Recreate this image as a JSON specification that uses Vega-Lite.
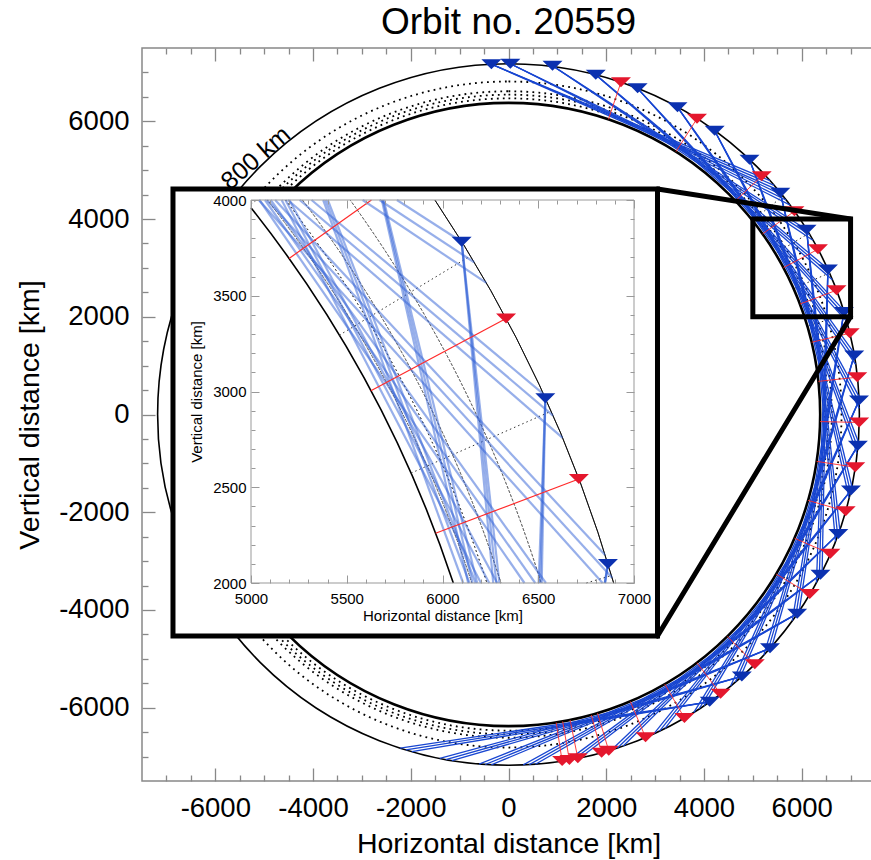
{
  "$schema": "https://vega.github.io/schema/vega-lite/v6.json",
  "width": 733,
  "height": 733,
  "autosize": {"type": "none"},
  "padding": {"left": 142, "top": 48, "right": 0, "bottom": 79},
  "background": "white",
  "view": {"stroke": "#888888", "strokeWidth": 1.5},
  "title": {"text": "Orbit no. 20559", "fontSize": 37, "font": "Liberation Sans", "fontWeight": "normal", "color": "#000000", "anchor": "middle", "baseline": "alphabetic", "offset": -24, "frame": "group"},
  "datasets": {
    "one": [{"v": 0}],
    "levels": [{"r": 6470}, {"r": 6545}, {"r": 6615}, {"r": 6815}],
    "earth": [{"r": 6378}],
    "orbit": [{"r": 7178}],
    "zoom": [{"x": 5000, "xe": 7000, "y": 2000, "ye": 4000}],
    "links": [{"x": 7000, "y": 4000, "xe": 3049, "ye": 4615}, {"x": 7000, "y": 2000, "xe": 3049, "ye": -4533}],
    "label": [{"x": -5064, "y": 5126, "text": "800 km"}],
    "radial": [
      {"x": 5617, "y": 4468, "xe": 4991, "ye": 3970},
      {"x": 6146, "y": 3708, "xe": 5461, "ye": 3294},
      {"x": 6567, "y": 2897, "xe": 5836, "ye": 2574},
      {"x": 6882, "y": 2039, "xe": 6115, "ye": 1811}
    ],
    "blue": [
      {"x": -351, "y": 7169}, {"x": 38, "y": 7178}, {"x": 900, "y": 7136}, {"x": 1785, "y": 6952},
      {"x": 2642, "y": 6674}, {"x": 3458, "y": 6290}, {"x": 4219, "y": 5807}, {"x": 4932, "y": 5215},
      {"x": 5562, "y": 4537}, {"x": 6100, "y": 3782}, {"x": 6537, "y": 2965}, {"x": 6864, "y": 2099},
      {"x": 7075, "y": 1209}, {"x": 7172, "y": 288}, {"x": 7149, "y": -638}, {"x": 7008, "y": -1554},
      {"x": 6749, "y": -2443}, {"x": 6384, "y": -3281}, {"x": 5908, "y": -4076}, {"x": 5351, "y": -4784},
      {"x": 4775, "y": -5359}, {"x": 4117, "y": -5880}
    ],
    "red": [
      {"x": 2301, "y": 6799, "xe": 2045, "ye": 6041},
      {"x": 3857, "y": 6054, "xe": 3427, "ye": 5379},
      {"x": 5181, "y": 4877, "xe": 4603, "ye": 4333},
      {"x": 5851, "y": 4158, "xe": 5199, "ye": 3695},
      {"x": 6332, "y": 3381, "xe": 5626, "ye": 3004},
      {"x": 6712, "y": 2543, "xe": 5964, "ye": 2260},
      {"x": 6982, "y": 1663, "xe": 6204, "ye": 1478},
      {"x": 7137, "y": 763, "xe": 6342, "ye": 678},
      {"x": 7176, "y": -163, "xe": 6376, "ye": -145},
      {"x": 7096, "y": -1080, "xe": 6305, "ye": -959},
      {"x": 6900, "y": -1979, "xe": 6131, "ye": -1758},
      {"x": 6587, "y": -2851, "xe": 5853, "ye": -2533},
      {"x": 6165, "y": -3675, "xe": 5478, "ye": -3266},
      {"x": 5040, "y": -5111, "xe": 4478, "ye": -4541},
      {"x": 4340, "y": -5717, "xe": 3856, "ye": -5080},
      {"x": 3600, "y": -6210, "xe": 3199, "ye": -5518},
      {"x": 2805, "y": -6607, "xe": 2492, "ye": -5871},
      {"x": 2051, "y": -6879, "xe": 1822, "ye": -6112},
      {"x": 1906, "y": -6920, "xe": 1694, "ye": -6149},
      {"x": 1419, "y": -7036, "xe": 1261, "ye": -6252},
      {"x": 1246, "y": -7069, "xe": 1108, "ye": -6281},
      {"x": 1098, "y": -7093, "xe": 976, "ye": -6303}
    ],
    "chords": [
      {"x": -351, "y": 7169, "xe": 5351, "ye": 4784}, {"x": -351, "y": 7169, "xe": 5434, "ye": 4690}, {"x": -351, "y": 7169, "xe": 5515, "ye": 4595},
      {"x": 38, "y": 7178, "xe": 5602, "ye": 4488}, {"x": 38, "y": 7178, "xe": 5679, "ye": 4389}, {"x": 38, "y": 7178, "xe": 5755, "ye": 4290},
      {"x": 900, "y": 7136, "xe": 6100, "ye": 3782}, {"x": 900, "y": 7136, "xe": 6165, "ye": 3675}, {"x": 900, "y": 7136, "xe": 6229, "ye": 3567},
      {"x": 1785, "y": 6952, "xe": 6526, "ye": 2988}, {"x": 1785, "y": 6952, "xe": 6577, "ye": 2874}, {"x": 1785, "y": 6952, "xe": 6627, "ye": 2758},
      {"x": 2642, "y": 6674, "xe": 6849, "ye": 2146}, {"x": 2642, "y": 6674, "xe": 6886, "ye": 2027}, {"x": 2642, "y": 6674, "xe": 6920, "ye": 1906},
      {"x": 3458, "y": 6290, "xe": 7064, "ye": 1271}, {"x": 3458, "y": 6290, "xe": 7085, "ye": 1148}, {"x": 3458, "y": 6290, "xe": 7104, "ye": 1024},
      {"x": 4219, "y": 5807, "xe": 7168, "ye": 376}, {"x": 4219, "y": 5807, "xe": 7174, "ye": 251}, {"x": 4219, "y": 5807, "xe": 7177, "ye": 125},
      {"x": 4932, "y": 5215, "xe": 7157, "ye": -551}, {"x": 4932, "y": 5215, "xe": 7146, "ye": -675}, {"x": 4932, "y": 5215, "xe": 7133, "ye": -800},
      {"x": 5562, "y": 4537, "xe": 7026, "ye": -1468}, {"x": 5562, "y": 4537, "xe": 6999, "ye": -1590}, {"x": 5562, "y": 4537, "xe": 6971, "ye": -1712},
      {"x": 6100, "y": 3782, "xe": 6779, "ye": -2361}, {"x": 6100, "y": 3782, "xe": 6736, "ye": -2478}, {"x": 6100, "y": 3782, "xe": 6692, "ye": -2596},
      {"x": 6537, "y": 2965, "xe": 6418, "ye": -3214}, {"x": 6537, "y": 2965, "xe": 6361, "ye": -3325}, {"x": 6537, "y": 2965, "xe": 6302, "ye": -3436},
      {"x": 6864, "y": 2099, "xe": 5951, "ye": -4014}, {"x": 6864, "y": 2099, "xe": 5880, "ye": -4117}, {"x": 6864, "y": 2099, "xe": 5807, "ye": -4219},
      {"x": 7075, "y": 1209, "xe": 5392, "ye": -4737}, {"x": 7075, "y": 1209, "xe": 5309, "ye": -4831}, {"x": 7075, "y": 1209, "xe": 5224, "ye": -4923},
      {"x": 7172, "y": 288, "xe": 4737, "ye": -5392}, {"x": 7172, "y": 288, "xe": 4643, "ye": -5474}, {"x": 7172, "y": 288, "xe": 4546, "ye": -5554},
      {"x": 7149, "y": -638, "xe": 4003, "ye": -5958}, {"x": 7149, "y": -638, "xe": 3899, "ye": -6027}, {"x": 7149, "y": -638, "xe": 3793, "ye": -6094},
      {"x": 7008, "y": -1554, "xe": 3203, "ye": -6424}, {"x": 7008, "y": -1554, "xe": 3090, "ye": -6479}, {"x": 7008, "y": -1554, "xe": 2977, "ye": -6531},
      {"x": 6749, "y": -2443, "xe": 2349, "ye": -6783}, {"x": 6749, "y": -2443, "xe": 2230, "ye": -6823}, {"x": 6749, "y": -2443, "xe": 2111, "ye": -6861},
      {"x": 6384, "y": -3281, "xe": 1468, "ye": -7026}, {"x": 6384, "y": -3281, "xe": 1345, "ye": -7051}, {"x": 6384, "y": -3281, "xe": 1222, "ye": -7073},
      {"x": 5908, "y": -4076, "xe": 551, "ye": -7157}, {"x": 5908, "y": -4076, "xe": 426, "ye": -7165}, {"x": 5908, "y": -4076, "xe": 301, "ye": -7171},
      {"x": 5351, "y": -4784, "xe": -351, "ye": -7169}, {"x": 5351, "y": -4784, "xe": -476, "ye": -7162}, {"x": 5351, "y": -4784, "xe": -601, "ye": -7153},
      {"x": 4775, "y": -5359, "xe": -1160, "ye": -7083}, {"x": 4775, "y": -5359, "xe": -1283, "ye": -7062}, {"x": 4775, "y": -5359, "xe": -1406, "ye": -7039},
      {"x": 4117, "y": -5880, "xe": -1979, "ye": -6900}, {"x": 4117, "y": -5880, "xe": -2099, "ye": -6864}, {"x": 4117, "y": -5880, "xe": -2218, "ye": -6827}
    ],
    "inEarth": [{"r": 6378, "t1": 0.90094, "t2": 1.25192}],
    "inOrbit": [{"r": 7178, "t1": 0.97983, "t2": 1.28858}],
    "inLevels": [
      {"r": 6470, "t1": 0.90426, "t2": 1.25646},
      {"r": 6545, "t1": 0.91333, "t2": 1.26030},
      {"r": 6615, "t1": 0.92136, "t2": 1.26362},
      {"r": 6815, "t1": 0.94353, "t2": 1.27287}
    ],
    "inChords": [
      {"x": 5762, "y": 4000, "xe": 6100, "ye": 3782}, {"x": 5671, "y": 4000, "xe": 6165, "ye": 3675}, {"x": 5583, "y": 4000, "xe": 6229, "ye": 3567},
      {"x": 5316, "y": 4000, "xe": 6526, "ye": 2988}, {"x": 5254, "y": 4000, "xe": 6577, "ye": 2874}, {"x": 5193, "y": 4000, "xe": 6627, "ye": 2758},
      {"x": 5126, "y": 4000, "xe": 6849, "ye": 2146}, {"x": 5084, "y": 4000, "xe": 6886, "ye": 2027}, {"x": 5041, "y": 4000, "xe": 6836, "ye": 2000},
      {"x": 5103, "y": 4000, "xe": 6540, "ye": 2000}, {"x": 5073, "y": 4000, "xe": 6484, "ye": 2000}, {"x": 5044, "y": 4000, "xe": 6428, "ye": 2000},
      {"x": 5200, "y": 4000, "xe": 6286, "ye": 2000}, {"x": 5180, "y": 4000, "xe": 6244, "ye": 2000}, {"x": 5160, "y": 4000, "xe": 6201, "ye": 2000},
      {"x": 5401, "y": 4000, "xe": 6173, "ye": 2000}, {"x": 5389, "y": 4000, "xe": 6141, "ye": 2000}, {"x": 5377, "y": 4000, "xe": 6108, "ye": 2000},
      {"x": 5693, "y": 4000, "xe": 6181, "ye": 2000}, {"x": 5688, "y": 4000, "xe": 6157, "ye": 2000}, {"x": 5683, "y": 4000, "xe": 6134, "ye": 2000},
      {"x": 6100, "y": 3782, "xe": 6297, "ye": 2000}, {"x": 6100, "y": 3782, "xe": 6281, "ye": 2000}, {"x": 6100, "y": 3782, "xe": 6265, "ye": 2000},
      {"x": 6537, "y": 2965, "xe": 6518, "ye": 2000}, {"x": 6537, "y": 2965, "xe": 6510, "ye": 2000}, {"x": 6537, "y": 2965, "xe": 6502, "ye": 2000},
      {"x": 6864, "y": 2099, "xe": 6849, "ye": 2000}, {"x": 6864, "y": 2099, "xe": 6848, "ye": 2000}, {"x": 6864, "y": 2099, "xe": 6847, "ye": 2000}
    ],
    "inRadial": [
      {"x": 5000, "y": 3977, "xe": 5029, "ye": 4000},
      {"x": 5461, "y": 3294, "xe": 6146, "ye": 3708},
      {"x": 5836, "y": 2574, "xe": 6567, "ye": 2897},
      {"x": 6751, "y": 2000, "xe": 6882, "ye": 2039}
    ],
    "inRed": [
      {"x": 5629, "y": 4000, "xe": 5199, "ye": 3695},
      {"x": 6332, "y": 3381, "xe": 5626, "ye": 3004},
      {"x": 6712, "y": 2543, "xe": 5964, "ye": 2260}
    ],
    "inRedTri": [{"x": 6332, "y": 3381}, {"x": 6712, "y": 2543}],
    "inBlueTri": [{"x": 6100, "y": 3782}, {"x": 6537, "y": 2965}, {"x": 6864, "y": 2099}]
  },
  "layer": [
    {
      "layer": [
        {
          "data": {"name": "levels"},
          "mark": {"type": "arc", "filled": false, "stroke": "#000000", "strokeWidth": 1.8, "strokeDash": [1.8, 4.2], "theta": 0, "theta2": 6.2832},
          "encoding": {
            "x": {"datum": 0, "type": "quantitative", "scale": {"domain": [-7500, 7500], "nice": false, "zero": false}, "axis": null},
            "y": {"datum": 0, "type": "quantitative", "scale": {"domain": [-7500, 7500], "nice": false, "zero": false}, "axis": null},
            "radius": {"field": "r", "type": "quantitative", "stack": null, "scale": {"type": "linear", "domain": [0, 7500], "range": [0, 366.5], "zero": true, "nice": false}}
          }
        },
        {
          "data": {"name": "earth"},
          "mark": {"type": "arc", "filled": false, "stroke": "#000000", "strokeWidth": 2.6, "theta": 0, "theta2": 6.2832},
          "encoding": {
            "x": {"datum": 0, "type": "quantitative", "axis": null},
            "y": {"datum": 0, "type": "quantitative", "axis": null},
            "radius": {"field": "r", "type": "quantitative", "stack": null, "scale": {"type": "linear", "domain": [0, 7500], "range": [0, 366.5], "zero": true, "nice": false}}
          }
        },
        {
          "data": {"name": "orbit"},
          "mark": {"type": "arc", "filled": false, "stroke": "#000000", "strokeWidth": 1.6, "theta": 0, "theta2": 6.2832},
          "encoding": {
            "x": {"datum": 0, "type": "quantitative", "axis": null},
            "y": {"datum": 0, "type": "quantitative", "axis": null},
            "radius": {"field": "r", "type": "quantitative", "stack": null, "scale": {"type": "linear", "domain": [0, 7500], "range": [0, 366.5], "zero": true, "nice": false}}
          }
        },
        {
          "data": {"name": "radial"},
          "mark": {"type": "rule", "stroke": "#222222", "strokeWidth": 1, "strokeDash": [1.5, 3]},
          "encoding": {
            "x": {"field": "x", "type": "quantitative", "axis": null},
            "y": {"field": "y", "type": "quantitative", "axis": null},
            "x2": {"field": "xe"},
            "y2": {"field": "ye"}
          }
        },
        {
          "data": {"name": "chords"},
          "mark": {"type": "rule", "stroke": "#1846d1", "strokeWidth": 1.3},
          "encoding": {
            "x": {"field": "x", "type": "quantitative", "axis": null},
            "y": {"field": "y", "type": "quantitative", "axis": null},
            "x2": {"field": "xe"},
            "y2": {"field": "ye"}
          }
        },
        {
          "data": {"name": "red"},
          "mark": {"type": "rule", "stroke": "#ff2a2a", "strokeWidth": 0.9},
          "encoding": {
            "x": {"field": "x", "type": "quantitative", "axis": null},
            "y": {"field": "y", "type": "quantitative", "axis": null},
            "x2": {"field": "xe"},
            "y2": {"field": "ye"}
          }
        },
        {
          "data": {"name": "red"},
          "mark": {"type": "point", "shape": "M-1,-0.5L1,-0.5L0,0.5Z", "filled": true, "fill": "#e4172d", "strokeWidth": 0, "size": 400, "opacity": 1},
          "encoding": {
            "x": {"field": "x", "type": "quantitative", "axis": null},
            "y": {"field": "y", "type": "quantitative", "axis": null}
          }
        },
        {
          "data": {"name": "blue"},
          "mark": {"type": "point", "shape": "M-1,-0.5L1,-0.5L0,0.5Z", "filled": true, "fill": "#0b31b0", "strokeWidth": 0, "size": 400, "opacity": 1},
          "encoding": {
            "x": {"field": "x", "type": "quantitative", "axis": null},
            "y": {"field": "y", "type": "quantitative", "axis": null}
          }
        },
        {
          "data": {"name": "label"},
          "mark": {"type": "text", "angle": 319, "fontSize": 25, "font": "Liberation Sans", "align": "center", "baseline": "alphabetic", "color": "#000000"},
          "encoding": {
            "x": {"field": "x", "type": "quantitative", "axis": null},
            "y": {"field": "y", "type": "quantitative", "axis": null},
            "text": {"field": "text"}
          }
        },
        {
          "data": {"name": "one"},
          "mark": {"type": "rect", "fill": "#ffffff", "stroke": "#000000", "strokeWidth": 5},
          "encoding": {
            "x": {"datum": -6866, "type": "quantitative", "axis": null},
            "x2": {"datum": 3049},
            "y": {"datum": 4615, "type": "quantitative", "axis": null},
            "y2": {"datum": -4533}
          }
        },
        {
          "data": {"name": "zoom"},
          "mark": {"type": "rect", "fill": "transparent", "stroke": "#000000", "strokeWidth": 5},
          "encoding": {
            "x": {"field": "x", "type": "quantitative", "axis": null},
            "x2": {"field": "xe"},
            "y": {"field": "y", "type": "quantitative", "axis": null},
            "y2": {"field": "ye"}
          }
        },
        {
          "data": {"name": "links"},
          "mark": {"type": "rule", "stroke": "#000000", "strokeWidth": 5, "strokeCap": "round"},
          "encoding": {
            "x": {"field": "x", "type": "quantitative", "axis": null},
            "y": {"field": "y", "type": "quantitative", "axis": null},
            "x2": {"field": "xe"},
            "y2": {"field": "ye"}
          }
        },
        {
          "data": {"name": "one"},
          "mark": {"type": "point", "opacity": 0},
          "encoding": {
            "x": {"field": "v", "type": "quantitative", "axis": {"orient": "bottom", "values": [-6000, -4000, -2000, 0, 2000, 4000, 6000], "labelExpr": "datum.value + ''", "ticks": false, "domain": false, "grid": false, "labelFontSize": 27.5, "labelPadding": 13, "labelFlush": false, "labelOverlap": false, "labelBound": false, "title": "Horizontal distance [km]", "titleFontSize": 28.5, "titlePadding": 8}},
            "y": {"field": "v", "type": "quantitative", "axis": null}
          }
        },
        {
          "data": {"name": "one"},
          "mark": {"type": "point", "opacity": 0},
          "encoding": {
            "x": {"field": "v", "type": "quantitative", "axis": {"orient": "bottom", "values": [-7000, -6500, -6000, -5500, -5000, -4500, -4000, -3500, -3000, -2500, -2000, -1500, -1000, -500, 0, 500, 1000, 1500, 2000, 2500, 3000, 3500, 4000, 4500, 5000, 5500, 6000, 6500, 7000], "labels": false, "domain": false, "grid": false, "title": null, "tickColor": "#888888", "tickWidth": 1.3, "tickSize": {"condition": {"test": "datum.value % 2000 === 0", "value": -13}, "value": -6}}},
            "y": {"field": "v", "type": "quantitative", "axis": null}
          }
        },
        {
          "data": {"name": "one"},
          "mark": {"type": "point", "opacity": 0},
          "encoding": {
            "x": {"field": "v", "type": "quantitative", "axis": {"orient": "top", "values": [-7000, -6500, -6000, -5500, -5000, -4500, -4000, -3500, -3000, -2500, -2000, -1500, -1000, -500, 0, 500, 1000, 1500, 2000, 2500, 3000, 3500, 4000, 4500, 5000, 5500, 6000, 6500, 7000], "labels": false, "domain": false, "grid": false, "title": null, "tickColor": "#888888", "tickWidth": 1.3, "tickSize": {"condition": {"test": "datum.value % 2000 === 0", "value": -13}, "value": -6}}},
            "y": {"field": "v", "type": "quantitative", "axis": null}
          }
        },
        {
          "data": {"name": "one"},
          "mark": {"type": "point", "opacity": 0},
          "encoding": {
            "x": {"field": "v", "type": "quantitative", "axis": null},
            "y": {"field": "v", "type": "quantitative", "axis": {"orient": "left", "values": [-6000, -4000, -2000, 0, 2000, 4000, 6000], "labelExpr": "datum.value + ''", "ticks": false, "domain": false, "grid": false, "labelFontSize": 27.5, "labelPadding": 13, "labelFlush": false, "labelOverlap": false, "labelBound": false, "title": "Vertical distance [km]", "titleFontSize": 28.5, "titlePadding": 14}}
          }
        },
        {
          "data": {"name": "one"},
          "mark": {"type": "point", "opacity": 0},
          "encoding": {
            "x": {"field": "v", "type": "quantitative", "axis": null},
            "y": {"field": "v", "type": "quantitative", "axis": {"orient": "left", "values": [-7000, -6500, -6000, -5500, -5000, -4500, -4000, -3500, -3000, -2500, -2000, -1500, -1000, -500, 0, 500, 1000, 1500, 2000, 2500, 3000, 3500, 4000, 4500, 5000, 5500, 6000, 6500, 7000], "labels": false, "domain": false, "grid": false, "title": null, "tickColor": "#888888", "tickWidth": 1.3, "tickSize": {"condition": {"test": "datum.value % 2000 === 0", "value": -13}, "value": -6}}}
          }
        }
      ],
      "resolve": {"axis": {"x": "independent", "y": "independent"}}
    },
    {
      "layer": [
        {
          "data": {"name": "inLevels"},
          "mark": {"type": "arc", "filled": false, "stroke": "#333333", "strokeWidth": 1, "strokeDash": [1.5, 3]},
          "encoding": {
            "x": {"datum": 0, "type": "quantitative", "scale": {"domain": [5000, 7000], "range": [109, 492], "nice": false, "zero": false}, "axis": null},
            "y": {"datum": 0, "type": "quantitative", "scale": {"domain": [2000, 4000], "range": [535, 152], "nice": false, "zero": false}, "axis": null},
            "theta": {"field": "t1", "type": "quantitative", "scale": null, "stack": null},
            "theta2": {"field": "t2"},
            "radius": {"field": "r", "type": "quantitative", "stack": null, "scale": {"type": "linear", "domain": [0, 7500], "range": [0, 1436.25], "zero": true, "nice": false}},
            "radius2": {"field": "r"}
          }
        },
        {
          "data": {"name": "inEarth"},
          "mark": {"type": "arc", "filled": false, "stroke": "#000000", "strokeWidth": 1.6},
          "encoding": {
            "x": {"datum": 0, "type": "quantitative", "axis": null},
            "y": {"datum": 0, "type": "quantitative", "axis": null},
            "theta": {"field": "t1", "type": "quantitative", "scale": null, "stack": null},
            "theta2": {"field": "t2"},
            "radius": {"field": "r", "type": "quantitative", "stack": null, "scale": {"type": "linear", "domain": [0, 7500], "range": [0, 1436.25], "zero": true, "nice": false}},
            "radius2": {"field": "r"}
          }
        },
        {
          "data": {"name": "inOrbit"},
          "mark": {"type": "arc", "filled": false, "stroke": "#000000", "strokeWidth": 0.8},
          "encoding": {
            "x": {"datum": 0, "type": "quantitative", "axis": null},
            "y": {"datum": 0, "type": "quantitative", "axis": null},
            "theta": {"field": "t1", "type": "quantitative", "scale": null, "stack": null},
            "theta2": {"field": "t2"},
            "radius": {"field": "r", "type": "quantitative", "stack": null, "scale": {"type": "linear", "domain": [0, 7500], "range": [0, 1436.25], "zero": true, "nice": false}},
            "radius2": {"field": "r"}
          }
        },
        {
          "data": {"name": "inRadial"},
          "mark": {"type": "rule", "stroke": "#333333", "strokeWidth": 1, "strokeDash": [1.5, 3]},
          "encoding": {
            "x": {"field": "x", "type": "quantitative", "axis": null},
            "y": {"field": "y", "type": "quantitative", "axis": null},
            "x2": {"field": "xe"},
            "y2": {"field": "ye"}
          }
        },
        {
          "data": {"name": "inChords"},
          "mark": {"type": "rule", "stroke": "#2f5fd6", "strokeWidth": 2.2, "opacity": 0.5},
          "encoding": {
            "x": {"field": "x", "type": "quantitative", "axis": null},
            "y": {"field": "y", "type": "quantitative", "axis": null},
            "x2": {"field": "xe"},
            "y2": {"field": "ye"}
          }
        },
        {
          "data": {"name": "inRed"},
          "mark": {"type": "rule", "stroke": "#ff2a2a", "strokeWidth": 1.2},
          "encoding": {
            "x": {"field": "x", "type": "quantitative", "axis": null},
            "y": {"field": "y", "type": "quantitative", "axis": null},
            "x2": {"field": "xe"},
            "y2": {"field": "ye"}
          }
        },
        {
          "data": {"name": "inRedTri"},
          "mark": {"type": "point", "shape": "M-1,-0.5L1,-0.5L0,0.5Z", "filled": true, "fill": "#e4172d", "strokeWidth": 0, "size": 400, "opacity": 1},
          "encoding": {
            "x": {"field": "x", "type": "quantitative", "axis": null},
            "y": {"field": "y", "type": "quantitative", "axis": null}
          }
        },
        {
          "data": {"name": "inBlueTri"},
          "mark": {"type": "point", "shape": "M-1,-0.5L1,-0.5L0,0.5Z", "filled": true, "fill": "#0b31b0", "strokeWidth": 0, "size": 400, "opacity": 1},
          "encoding": {
            "x": {"field": "x", "type": "quantitative", "axis": null},
            "y": {"field": "y", "type": "quantitative", "axis": null}
          }
        },
        {
          "data": {"name": "one"},
          "mark": {"type": "rect", "fill": "transparent", "stroke": "#999999", "strokeWidth": 1},
          "encoding": {
            "x": {"datum": 5000, "type": "quantitative", "axis": null},
            "x2": {"datum": 7000},
            "y": {"datum": 2000, "type": "quantitative", "axis": null},
            "y2": {"datum": 4000}
          }
        },
        {
          "data": {"name": "one"},
          "mark": {"type": "point", "opacity": 0},
          "encoding": {
            "x": {"field": "v", "type": "quantitative", "axis": {"orient": "bottom", "offset": -198, "zindex": 2, "values": [5000, 5500, 6000, 6500, 7000], "labelExpr": "datum.value + ''", "ticks": false, "domain": false, "grid": false, "labelFontSize": 15, "labelPadding": 8, "labelFlush": false, "labelOverlap": false, "labelBound": false, "title": "Horizontal distance [km]", "titleFontSize": 15, "titlePadding": 2}},
            "y": {"field": "v", "type": "quantitative", "axis": null}
          }
        },
        {
          "data": {"name": "one"},
          "mark": {"type": "point", "opacity": 0},
          "encoding": {
            "x": {"field": "v", "type": "quantitative", "axis": {"orient": "bottom", "offset": -198, "zindex": 2, "values": [5000, 5100, 5200, 5300, 5400, 5500, 5600, 5700, 5800, 5900, 6000, 6100, 6200, 6300, 6400, 6500, 6600, 6700, 6800, 6900, 7000], "labels": false, "domain": false, "grid": false, "title": null, "tickColor": "#999999", "tickWidth": 1, "tickSize": {"condition": {"test": "datum.value % 500 === 0", "value": -8}, "value": -4}}},
            "y": {"field": "v", "type": "quantitative", "axis": null}
          }
        },
        {
          "data": {"name": "one"},
          "mark": {"type": "point", "opacity": 0},
          "encoding": {
            "x": {"field": "v", "type": "quantitative", "axis": {"orient": "top", "offset": -152, "zindex": 2, "values": [5000, 5100, 5200, 5300, 5400, 5500, 5600, 5700, 5800, 5900, 6000, 6100, 6200, 6300, 6400, 6500, 6600, 6700, 6800, 6900, 7000], "labels": false, "domain": false, "grid": false, "title": null, "tickColor": "#999999", "tickWidth": 1, "tickSize": {"condition": {"test": "datum.value % 500 === 0", "value": -8}, "value": -4}}},
            "y": {"field": "v", "type": "quantitative", "axis": null}
          }
        },
        {
          "data": {"name": "one"},
          "mark": {"type": "point", "opacity": 0},
          "encoding": {
            "x": {"field": "v", "type": "quantitative", "axis": null},
            "y": {"field": "v", "type": "quantitative", "axis": {"orient": "left", "offset": -109, "zindex": 2, "values": [2000, 2500, 3000, 3500, 4000], "labelExpr": "datum.value + ''", "ticks": false, "domain": false, "grid": false, "labelFontSize": 15, "labelPadding": 5, "labelFlush": false, "labelOverlap": false, "labelBound": false, "title": "Vertical distance [km]", "titleFontSize": 15, "titlePadding": 8}}
          }
        },
        {
          "data": {"name": "one"},
          "mark": {"type": "point", "opacity": 0},
          "encoding": {
            "x": {"field": "v", "type": "quantitative", "axis": null},
            "y": {"field": "v", "type": "quantitative", "axis": {"orient": "left", "offset": -109, "zindex": 2, "values": [2000, 2100, 2200, 2300, 2400, 2500, 2600, 2700, 2800, 2900, 3000, 3100, 3200, 3300, 3400, 3500, 3600, 3700, 3800, 3900, 4000], "labels": false, "domain": false, "grid": false, "title": null, "tickColor": "#999999", "tickWidth": 1, "tickSize": {"condition": {"test": "datum.value % 500 === 0", "value": -8}, "value": -4}}}
          }
        },
        {
          "data": {"name": "one"},
          "mark": {"type": "point", "opacity": 0},
          "encoding": {
            "x": {"field": "v", "type": "quantitative", "axis": null},
            "y": {"field": "v", "type": "quantitative", "axis": {"orient": "right", "offset": -241, "zindex": 2, "values": [2000, 2100, 2200, 2300, 2400, 2500, 2600, 2700, 2800, 2900, 3000, 3100, 3200, 3300, 3400, 3500, 3600, 3700, 3800, 3900, 4000], "labels": false, "domain": false, "grid": false, "title": null, "tickColor": "#999999", "tickWidth": 1, "tickSize": {"condition": {"test": "datum.value % 500 === 0", "value": -8}, "value": -4}}}
          }
        }
      ],
      "resolve": {"axis": {"x": "independent", "y": "independent"}}
    }
  ],
  "resolve": {"scale": {"x": "independent", "y": "independent", "radius": "independent"}, "axis": {"x": "independent", "y": "independent"}},
  "config": {
    "font": "Liberation Sans",
    "axis": {"labelFont": "Liberation Sans", "titleFont": "Liberation Sans", "labelColor": "#000000", "titleColor": "#000000", "titleFontWeight": "normal", "grid": false},
    "title": {"font": "Liberation Sans", "fontWeight": "normal"}
  }
}
